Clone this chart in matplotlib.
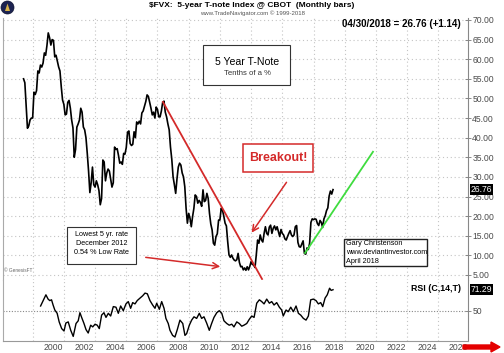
import numpy as np
import matplotlib.pyplot as plt
from matplotlib.patches import Rectangle, Ellipse, FancyArrow, Polygon
from matplotlib.transforms import blended_transform_factory

plt.rcParams['font.family'] = ['Liberation Sans', 'DejaVu Sans']

# monthly closes of $FVX (yield x10), June 1998 .. April 2018
start = 1998 + 5 / 12
fvx_close = [
    55.0, 54.0, 48.0, 42.4, 43.0, 44.5, 45.0,                              # 1998
    45.0, 51.6, 51.0, 52.0, 57.0, 56.5, 58.5, 58.0, 59.0, 61.6, 61.0, 63.5,  # 1999
    66.7, 65.5, 63.6, 65.0, 64.8, 60.6, 61.0, 59.5, 58.0, 57.0, 53.0, 49.6,  # 2000
    48.5, 45.8, 46.0, 49.0, 49.5, 47.5, 44.5, 42.5, 35.0, 37.0, 42.7, 43.5,  # 2001
    44.5, 47.5, 46.5, 42.7, 42.0, 40.0, 36.0, 31.5, 26.0, 28.5, 32.5, 28.0,  # 2002
    27.4, 29.0, 28.0, 26.5, 22.9, 24.5, 34.3, 33.8, 29.0, 31.0, 32.0, 31.5,  # 2003
    29.5, 27.4, 28.5, 37.6, 37.0, 37.2, 35.5, 33.5, 33.8, 33.2, 36.0, 35.8,  # 2004
    37.5, 41.4, 41.7, 38.5, 38.0, 38.3, 41.5, 40.0, 44.0, 43.5, 44.2, 43.5,  # 2005
    46.3, 46.8, 48.0, 49.2, 50.9, 50.5, 49.0, 47.5, 45.8, 46.5, 45.0, 47.8,  # 2006
    47.2, 45.3, 45.3, 46.8, 49.0, 49.3, 46.5, 45.3, 43.5, 42.0, 37.6, 34.5,  # 2007
    30.0, 28.0, 25.8, 29.5, 32.5, 33.5, 33.0, 31.0, 30.0, 27.5, 22.0, 18.2,  # 2008
    20.7, 19.5, 17.3, 19.9, 22.0, 25.4, 25.0, 23.3, 24.0, 23.5, 22.5, 26.7,  # 2009
    23.7, 24.0, 25.8, 24.5, 20.7, 18.0, 16.5, 13.1, 12.6, 14.8, 15.5, 19.0,  # 2010
    19.0, 22.0, 21.5, 20.0, 18.2, 17.5, 13.5, 10.1, 9.5, 10.1, 9.3, 8.8,     # 2011
    8.6, 8.9, 10.5, 8.2, 7.1, 7.2, 6.3, 6.8, 6.2, 7.1, 6.3, 7.2,             # 2012
    8.4, 7.7, 7.5, 6.9, 10.2, 13.9, 13.1, 15.2, 13.9, 13.4, 15.6, 17.3,      # 2013
    15.6, 15.2, 17.2, 17.7, 15.6, 16.9, 17.5, 16.5, 17.3, 16.0, 14.8, 16.6,  # 2014
    15.6, 15.2, 14.2, 13.9, 14.8, 15.6, 16.3, 15.2, 14.8, 15.2, 17.3, 17.6,  # 2015
    13.3, 12.2, 12.1, 12.9, 13.7, 10.5, 10.3, 11.9, 11.5, 13.1, 18.4, 19.3,  # 2016
    19.1, 19.3, 19.2, 18.1, 17.6, 18.9, 18.4, 17.1, 19.3, 20.1, 21.4, 22.1,  # 2017
    25.1, 26.4, 25.62, 26.76,                                                # 2018
]

# RSI(C,14)
rsi_dates = [
    1999.51, 1999.85, 1999.99, 2000.10, 2000.21, 2000.31, 2000.42, 2000.57, 2000.70, 2000.86,
    2001.01, 2001.13, 2001.28, 2001.44, 2001.60, 2001.78, 2001.92, 2002.03, 2002.14, 2002.29,
    2002.42, 2002.56, 2002.72, 2002.85, 2003.00, 2003.14, 2003.27, 2003.42, 2003.57, 2003.70,
    2003.85, 2004.00, 2004.17, 2004.34, 2004.49, 2004.64, 2004.81, 2004.98, 2005.13, 2005.28,
    2005.41, 2005.56, 2005.70, 2005.88, 2006.05, 2006.20, 2006.35, 2006.52, 2006.69, 2006.84,
    2006.95, 2007.12, 2007.27, 2007.42, 2007.54, 2007.69, 2007.80, 2007.97, 2008.12, 2008.27,
    2008.44, 2008.62, 2008.76, 2008.87, 2009.04, 2009.19, 2009.34, 2009.51, 2009.68, 2009.83,
    2009.98, 2010.15, 2010.32, 2010.47, 2010.62, 2010.80, 2010.96, 2011.12, 2011.26, 2011.44,
    2011.60, 2011.76, 2011.90, 2012.08, 2012.24, 2012.40, 2012.54, 2012.72, 2012.88, 2013.04,
    2013.19, 2013.36, 2013.53, 2013.68, 2013.83, 2014.00, 2014.17, 2014.32, 2014.47, 2014.64,
    2014.81, 2014.96, 2015.06, 2015.24, 2015.38, 2015.54, 2015.71, 2015.88, 2016.03, 2016.18,
    2016.35, 2016.52, 2016.67, 2016.82, 2016.99, 2017.16, 2017.31, 2017.46, 2017.59, 2017.74,
    2017.88, 2018.03, 2018.13, 2018.25,
]
rsi_values = [
    55.0, 66.2, 61.9, 60.4, 61.2, 56.0, 51.0, 47.7, 39.1, 32.4,
    30.0, 38.0, 39.1, 30.7, 24.6, 37.5, 40.2, 48.3, 43.6, 37.5,
    31.4, 28.0, 35.8, 34.1, 36.8, 35.8, 32.4, 45.9, 48.3, 43.6,
    47.7, 45.0, 54.4, 53.8, 47.7, 55.0, 50.3, 57.1, 59.4, 52.7,
    58.4, 57.1, 60.4, 62.9, 65.2, 67.9, 67.2, 60.4, 56.0, 52.7,
    57.8, 51.7, 59.4, 52.7, 42.6, 37.5, 30.7, 25.6, 24.0, 31.4,
    40.9, 37.5, 25.6, 27.4, 35.8, 40.9, 44.2, 42.6, 47.7, 42.6,
    44.2, 38.0, 30.7, 37.5, 43.6, 48.3, 50.3, 47.7, 40.2, 37.5,
    35.8, 36.8, 34.1, 39.1, 37.5, 34.8, 35.8, 37.5, 41.6, 45.0,
    43.6, 57.8, 61.2, 59.4, 57.1, 61.9, 57.8, 59.4, 56.0, 58.4,
    53.8, 51.0, 45.0, 51.0, 49.3, 53.8, 49.3, 55.0, 47.7, 45.9,
    42.6, 40.9, 45.0, 61.2, 61.9, 60.4, 57.1, 58.4, 54.4, 62.9,
    66.2, 72.8, 70.6, 71.29,
]

price_ticks = np.arange(5, 75, 5)
year_labels = np.arange(2000, 2027, 2)
grid_years = np.arange(1999, 2027, 2)
last_change = 1.14

downtrend = ([2007.35, 2013.70], [49.1, 3.98])
uptrend = ([2016.455, 2020.81], [10.6, 36.4])

dates = start + np.arange(len(fvx_close)) / 12
last_close = fvx_close[-1]
last_rsi = rsi_values[-1]

W, H = 504, 353
RED = '#d42a2a'
GRID = '#c4c4c4'
TICK = '#4a4a4a'


def rect(l, t, r, b):
    return [l / W, 1 - b / H, (r - l) / W, (b - t) / H]


fig = plt.figure(figsize=(W / 100, H / 100), dpi=100)
ax = fig.add_axes(rect(3, 18, 468, 280))
rs = fig.add_axes(rect(3, 280, 468, 341), sharex=ax)

# ---- price panel
ax.plot(dates, fvx_close, color='black', lw=1.2, zorder=4)
ax.plot(*downtrend, color=RED, lw=1.3, zorder=5)
ax.plot(*uptrend, color='#3fdc3f', lw=1.3, zorder=5)

ax.set_xlim(1997.10, 2026.90)
ax.set_ylim(3.72, 70.5)
ax.yaxis.tick_right()
ax.set_yticks(price_ticks, [f'{v:.2f}' for v in price_ticks])
ax.tick_params(axis='y', direction='inout', length=4, width=0.6, color='#777',
               labelsize=6.2, labelcolor=TICK, pad=1)
ax.tick_params(axis='x', which='both', bottom=False, labelbottom=False)
ax.set_xticks(grid_years, minor=True)
ax.grid(axis='y', ls=(0, (1, 2.5)), color=GRID, lw=0.8)
ax.grid(axis='x', which='minor', ls=(0, (1, 2.5)), color=GRID, lw=0.8)
for s in ('top', 'bottom'):
    ax.spines[s].set_visible(False)
ax.spines['left'].set_color('#aaaaaa')
ax.spines['right'].set_color('#888888')
for sp in ax.spines.values():
    sp.set_linewidth(0.8)

ytr = blended_transform_factory(ax.transAxes, ax.transData)
ax.text(1.006, last_close, f'{last_close:.2f}', transform=ytr, ha='left', va='center',
        color='white', fontsize=6.2, zorder=10, clip_on=False,
        bbox=dict(boxstyle='square,pad=0.12', fc='black', ec='none'))
ax.text(0.985, 0.978, f'04/30/2018 = {last_close:.2f} (+{last_change:.2f})',
        transform=ax.transAxes, ha='right', va='center', fontsize=7, fontweight='bold')

# 5 Year T-Note box
ax.add_patch(Rectangle((2009.92, 53.4), 5.57, 10.2, fc='white', ec='#333', lw=0.8, zorder=6))
ax.text(2012.74, 59.2, '5 Year T-Note', ha='center', va='center', fontsize=7.6, zorder=7)
ax.text(2012.74, 56.4, 'Tenths of a %', ha='center', va='center', fontsize=5.6,
        color='#333', zorder=7)

# Breakout box and arrow
ax.add_patch(Rectangle((2012.48, 31.25), 4.49, 7.15, fc='white', ec=RED, lw=1.1, zorder=6))
ax.text(2014.72, 34.8, 'Breakout!', ha='center', va='center', fontsize=9,
        fontweight='bold', color=RED, zorder=7)
ax.annotate('', xy=(2012.93, 15.2), xytext=(2015.37, 29.2), zorder=6,
            arrowprops=dict(arrowstyle='->', color=RED, lw=1.1, mutation_scale=11))

# lowest rate box and arrow
ax.add_patch(Rectangle((2001.20, 7.8), 4.42, 9.43, fc='white', ec='#333', lw=0.8, zorder=6))
for v, s in zip([15.2, 13.0, 10.8],
                ['Lowest 5 yr. rate', 'December 2012', '0.54 % Low Rate']):
    ax.text(2003.42, v, s, ha='center', va='center', fontsize=5.2, zorder=7)
ax.annotate('', xy=(2011.20, 7.04), xytext=(2006.07, 9.58), zorder=6,
            arrowprops=dict(arrowstyle='->', color=RED, lw=1.1, mutation_scale=11))

# author box
ax.add_patch(Rectangle((2018.95, 7.29), 5.33, 6.88, fc='white', ec='#222', lw=1.0, zorder=6))
for v, s in zip([12.9, 10.7, 8.5],
                ['Gary Christenson', 'www.deviantinvestor.com', 'April 2018']):
    ax.text(2019.08, v, s, ha='left', va='center', fontsize=5.2, zorder=7)

ax.text(0.002, 0.035, '© GenesisFT', transform=ax.transAxes, fontsize=3.4,
        color='#666', va='center')

# ---- RSI panel
rs.plot(rsi_dates, rsi_values, color='black', lw=1.0, zorder=4)
rs.axhline(50, color='#888888', ls=(0, (1, 1.5)), lw=0.8)
rs.set_ylim(20, 81)
rs.yaxis.tick_right()
rs.set_yticks([50], ['50'])
rs.tick_params(axis='y', direction='inout', length=4, width=0.6, color='#777',
               labelsize=6.2, labelcolor=TICK, pad=1)
rs.set_xticks(year_labels + 0.3, [str(y) for y in year_labels])
rs.set_xticks(grid_years, minor=True)
rs.tick_params(axis='x', which='both', length=0, labelsize=6.2, labelcolor=TICK, pad=1.5)
rs.grid(axis='x', which='minor', ls=(0, (1, 2.5)), color=GRID, lw=0.8)
rs.spines['top'].set_visible(False)
rs.spines['left'].set_color('#aaaaaa')
rs.spines['right'].set_color('#888888')
rs.spines['bottom'].set_color('#999999')
for sp in rs.spines.values():
    sp.set_linewidth(0.8)

rtr = blended_transform_factory(rs.transAxes, rs.transData)
rs.text(1.006, last_rsi, f'{last_rsi:.2f}', transform=rtr, ha='left', va='center',
        color='white', fontsize=6.2, zorder=10, clip_on=False,
        bbox=dict(boxstyle='square,pad=0.12', fc='black', ec='none'))
rs.text(0.984, 0.86, 'RSI (C,14,T)', transform=rs.transAxes, ha='right', va='center',
        fontsize=6.4, fontweight='bold')

# ---- header
fig.text(0.5, 1 - 5.5 / H, '$FVX:  5-year T-note Index @ CBOT  (Monthly bars)',
         ha='center', va='center', fontsize=6, fontweight='bold')
fig.text(0.502, 1 - 13 / H, 'www.TradeNavigator.com © 1999-2018',
         ha='center', va='center', fontsize=4.3, color='#555')
fig.patches.append(Ellipse((7.5 / W, 1 - 7.5 / H), 13 / W, 13 / H, transform=fig.transFigure,
                           fc='#1d2452', ec='#0d1230', lw=0.5))
fig.patches.append(Polygon([(5 / W, 1 - 11 / H), (10 / W, 1 - 11 / H), (7.5 / W, 1 - 3.5 / H)],
                           closed=True, transform=fig.transFigure, fc='#d9b44a', ec='none'))

# red arrow at the bottom right
fig.patches.append(FancyArrow(463 / W, 1 - 347 / H, 37 / W, 0, width=4 / H, head_width=10 / H,
                              head_length=9 / W, length_includes_head=True,
                              transform=fig.transFigure, color='#e40000'))

fig.savefig('out.png', dpi=100)
